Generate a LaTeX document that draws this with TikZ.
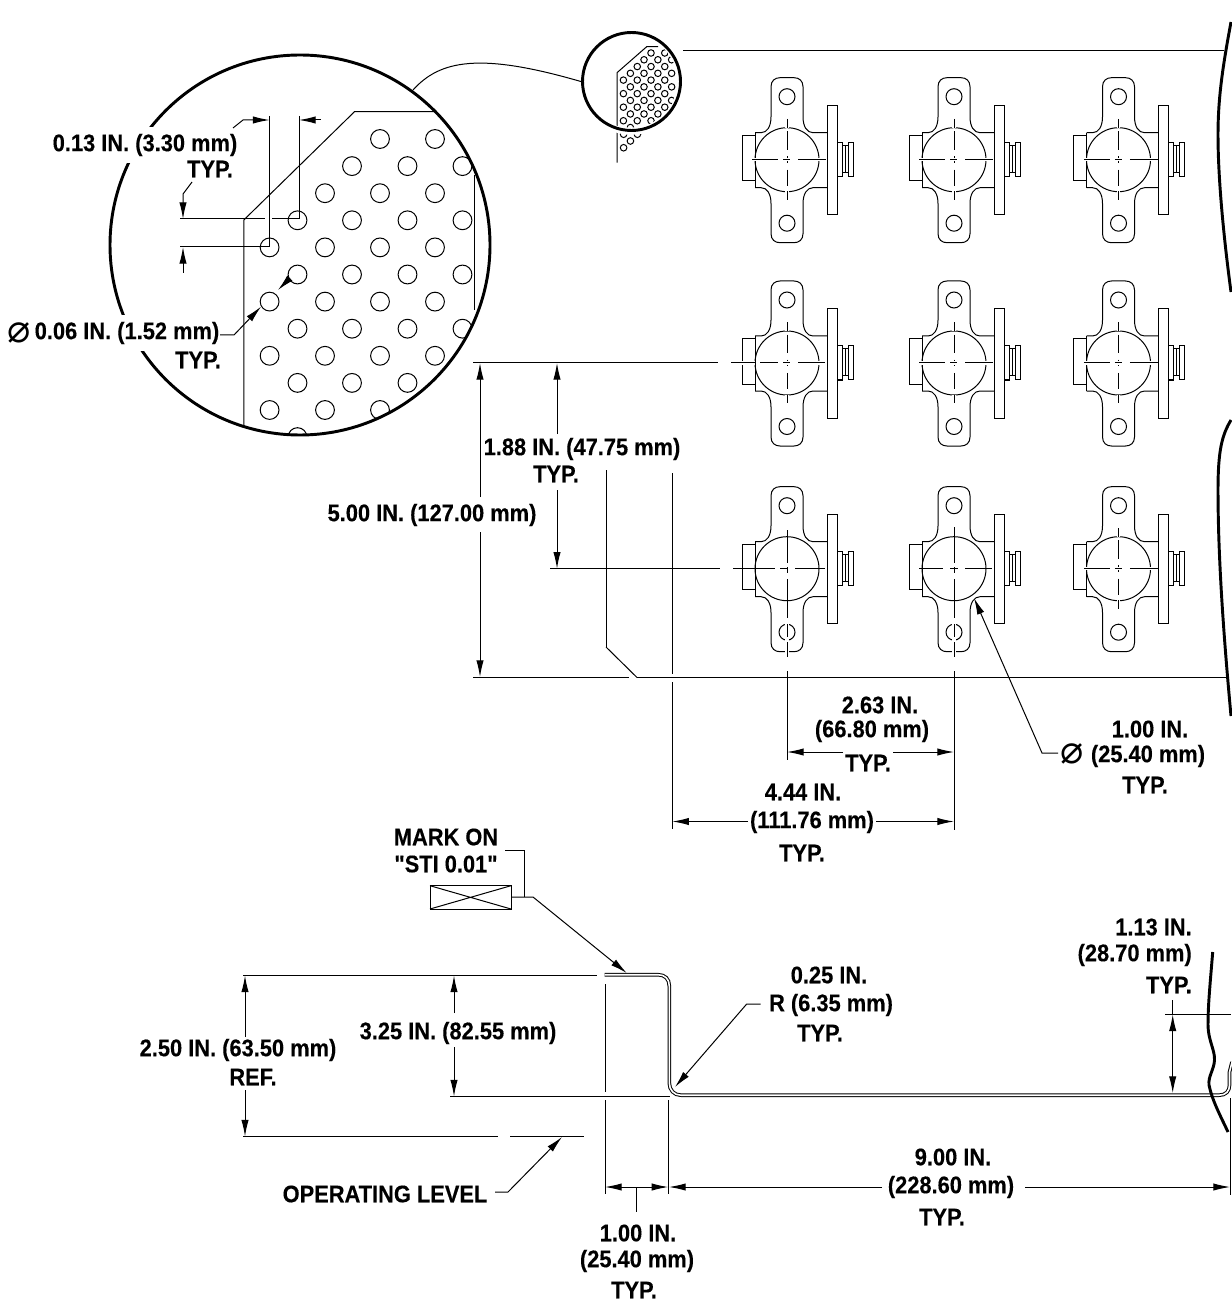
\documentclass[tikz,border=0pt]{standalone}
\usepackage{fontspec}
\newfontfamily\lblfont{Liberation Sans Bold}[FakeStretch=0.91,FakeBold=0.3]
\newfontfamily\symbfont{DejaVu Sans}
\usetikzlibrary{arrows.meta}
\tikzset{
  dimtip/.tip={Latex[length=12.5pt,width=5.5pt]},
  lbl/.style={font=\lblfont\fontsize{18pt}{18pt}\selectfont,inner sep=0.75pt},
  masked/.style={lbl,fill=white,inner xsep=1pt,inner ysep=5pt},
  dia/.style={font=\symbfont\fontsize{29pt}{29pt}\selectfont,inner sep=0pt},
  thin line/.style={line width=0.75pt},
  heavy/.style={line width=2.2pt},
  ctr/.style={line width=0.75pt,preaction={draw=white,line width=2.6pt}},
  bracket/.pic={
    \draw [thin line] (-32,-28) -- (-32,27);
    \draw [thin line] (-32,-28) -- (-26,-28) .. controls (-20,-28) and (-16,-34) .. (-16,-44) -- (-16,-74) .. controls (-16,-80) and (-12,-83) .. (-7,-83) -- (7,-83) .. controls (12,-83) and (16,-80) .. (16,-74) -- (16,-44) .. controls (16,-34) and (20,-28) .. (26,-28) -- (40,-28);
    \draw [thin line] (-32,27) -- (-26,27) .. controls (-20,27) and (-16,33) .. (-16,43) -- (-16,73) .. controls (-16,79) and (-12,82) .. (-7,82) -- (7,82) .. controls (12,82) and (16,79) .. (16,73) -- (16,43) .. controls (16,33) and (20,27) .. (26,27) -- (40,27);
    \draw [thin line] (-32,-21) -- (-45,-21) -- (-45,24) -- (-32,24);
    \draw [thin line] (0,0) circle (32);
    \draw [thin line] (0,-63.5) circle (8);
    \draw [thin line] (0,63) circle (8);
    \draw [thin line] (40.3,-55) rectangle (50,54);
    \draw [thin line] (50,-17) rectangle (55,17);
    \draw [thin line] (55,-13) -- (61,-13) (55,14) -- (61,14) (58,-13) -- (58,14);
    \draw [thin line] (61,-16.5) rectangle (66,17.5);
  }
}
\newcommand{\perfholes}[1]{%
  \foreach \j/\xlist in {0/{380,435},1/{352,407.5,462.5},2/{325,380,435},3/{297.5,352,407.5,462.5},4/{269.6,325,380,435},5/{297.5,352,407.5,462.5},6/{269.6,325,380,435},7/{297.5,352,407.5,462.5},8/{269.6,325,380,435},9/{297.5,352,407.5},10/{269.6,325,380},11/{297.5}}
    \foreach \i in \xlist
      \draw [thin line] (\i,139+27.1*\j) circle (#1);
}
\begin{document}
\begin{tikzpicture}[x=0.75pt,y=0.75pt,yscale=-1,xscale=1]
\useasboundingbox (0,0) rectangle (1231,1301);
% Sheet outline
\draw [thin line] (683,50.5) -- (1224,50.5);
\draw [thin line] (637,677.5) -- (1228,677.5);
\draw [thin line] (606,647) -- (637,677.5);
\draw [thin line] (606,470) -- (606,647);
\draw [thin line] (473,677.5) -- (629,677.5);
\draw [heavy] (1231,22) .. controls (1222,70) and (1218,100) .. (1218,135) .. controls (1218,180) and (1224,240) .. (1231,292);
\draw [heavy] (1231,420) .. controls (1222,435) and (1218,450) .. (1218,490) .. controls (1218,560) and (1224,640) .. (1231,716);
% Brackets
\foreach \cx in {787,954,1118.5}
  \foreach \cy in {159.7,363,568.7}
    \pic at (\cx,\cy) {bracket};
% Center lines
\foreach \cx/\cy in {787/159.7,954/159.7,1118.5/159.7,787/363,954/363,1118.5/363,1118.5/568.7}{
  \foreach \ya/\yb in {-40.7/-31.7,-28.3/-10,-3.3/3.3,10/26,31.7/40}
    \draw [ctr] (\cx,\cy+\ya) -- (\cx,\cy+\yb);
}
\foreach \cx/\cy in {954/159.7,1118.5/159.7,787/159.7,954/363,1118.5/363,1118.5/568.7}{
  \foreach \xa/\xb in {-34.7/-8.7,-3.7/3,11.3/39}
    \draw [ctr] (\cx+\xa,\cy) -- (\cx+\xb,\cy);
}
\foreach \cx/\ytop in {787/530,954/527}{
  \draw [white,line width=3pt] (\cx,618) -- (\cx,657);
  \foreach \ya/\yb in {\ytop/563,567/573,579/618,624/637,642/657}
    \draw [thin line] (\cx,\ya) -- (\cx,\yb);
}
\foreach \xa/\xb in {731/755,760/778,783/790,798/825}
  \draw [ctr] (\xa,363) -- (\xb,363);
\foreach \xa/\xb in {733/775,780/788,795/825}
  \draw [thin line] (\xa,568.7) -- (\xb,568.7);
\foreach \xa/\xb in {919/943,950/958,965/992}
  \draw [thin line] (\xa,568.7) -- (\xb,568.7);
% Small view of the perforated corner
\begin{scope}
  \clip (631.5,81.5) circle (46);
  \begin{scope}[shift={(556,18.25)},scale=0.25]
    \perfholes{13}
  \end{scope}
\end{scope}
\foreach \mx/\my in {623.6/134.25,637.4/134.25,630.4/141,623.6/147.75}
  \draw [thin line] (\mx,\my) circle (3.3);
\draw [thin line] (658,46.7) -- (646.7,46.7) -- (617,72.7) -- (617,162.7);
\draw [white,line width=5pt] (631.5,81.5) circle (50);
\draw [heavy] (631.5,81.5) circle (49);
\draw [thin line] (413,90) .. controls (440,60) and (480,52) .. (582.5,82);
% Detail circle
\begin{scope}
  \clip (300,245) circle (190);
  \draw [thin line] (243.8,430) -- (243.8,220) -- (354.5,111.7) -- (440,111.7);
  \draw [thin line] (474.5,175) -- (474.5,310);
  \perfholes{9.4}
\end{scope}
\draw [heavy] (300,245) circle (190);
% Text Node
\draw (145,145) node (detailpitch) [masked] {0.13 IN. (3.30 mm)};
\draw (210,169) node (detailpitchtyp) [lbl] {TYP.};
\draw (127,333) node (detaildia) [masked] {0.06 IN. (1.52 mm)};
\draw (198,360) node (detaildiatyp) [lbl] {TYP.};
\draw (19.5,333) node (detaildiasym) [dia] {⌀};
% Detail dimensions
\draw [thin line] (269.6,116) -- (269.6,246.7);
\draw [thin line] (299,116) -- (299,219);
\draw [thin line] (180,219) -- (265,219) (272,219) -- (299,219);
\draw [thin line] (180,246.7) -- (269.6,246.7);
\draw [thin line,-dimtip] (233,128) -- (243,120) -- (269.6,120);
\draw [thin line,-dimtip] (320.5,120) -- (299,120);
\draw [thin line,-dimtip] (192,182) -- (183,194) -- (183,219);
\draw [thin line,-dimtip] (183,273) -- (183,247);
\draw [thin line,-dimtip] (220,335) -- (234,335) -- (261,306.7);
\draw [thin line,-dimtip] (290,278) -- (278,290);
% 5.00 and 1.88 dimensions
\draw [thin line] (473,363) -- (718,363);
\draw [thin line] (550,568.7) -- (720,568.7);
\draw [thin line,-dimtip] (480,497) -- (480,363);
\draw [thin line,-dimtip] (480,532) -- (480,677);
\draw [thin line,-dimtip] (557,434) -- (557,363);
\draw [thin line,-dimtip] (557,490) -- (557,568.7);
\draw [thin line] (672.3,473) -- (672.3,674) (672.3,682) -- (672.3,829);
\draw [thin line] (787,671) -- (787,760);
\draw [thin line] (954,671) -- (954,830);
\draw [thin line,-dimtip] (843,752) -- (787,752);
\draw [thin line,-dimtip] (893,752) -- (954,752);
\draw [thin line,-dimtip] (748,821.5) -- (672.3,821.5);
\draw [thin line,-dimtip] (876,821.5) -- (954,821.5);
\draw [thin line,-dimtip] (1058,753) -- (1042,753) -- (974,598);
% Text Node
\draw (432,515) node (overall) [lbl] {5.00 IN. (127.00 mm)};
\draw (582,449) node (pitchrow) [lbl] {1.88 IN. (47.75 mm)};
\draw (556,474) node (pitchrowtyp) [lbl] {TYP.};
\draw (880,705) node (pitchcol) [lbl] {2.63 IN.};
\draw (872,731) node (pitchcolmm) [lbl] {(66.80 mm)};
\draw (868,763) node (pitchcoltyp) [lbl] {TYP.};
\draw (803,792) node (firstcol) [lbl] {4.44 IN.};
\draw (812,822) node (firstcolmm) [lbl] {(111.76 mm)};
\draw (802,853) node (firstcoltyp) [lbl] {TYP.};
\draw (1072,754) node (bossdiasym) [dia] {⌀};
\draw (1150,729) node (bossdia) [lbl] {1.00 IN.};
\draw (1148,756) node (bossdiamm) [lbl] {(25.40 mm)};
\draw (1145,785) node (bossdiatyp) [lbl] {TYP.};
\draw (446,837) node (markon) [lbl] {MARK ON};
\draw (446,864) node (markstock) [lbl] {"STI 0.01"};
% Mark box
\draw [thin line] (430,885.7) rectangle (511,909);
\draw [thin line] (430,885.7) -- (511,909) (430,909) -- (511,885.7);
\draw [thin line] (505,850) -- (524,850) -- (524,897);
\draw [thin line,-dimtip] (511,897) -- (533,897) -- (626.7,973);
% Side profile
\draw [thin line,double,double distance=1.2pt] (604.5,974.7) -- (658,974.7) .. controls (665,974.7) and (669.3,979) .. (669.3,986) -- (669.3,1083) .. controls (669.3,1090) and (674,1095.2) .. (681,1095.2) -- (1219,1095.2) .. controls (1226,1095.2) and (1229.5,1091) .. (1229.5,1085) -- (1229.5,1072) -- (1232,1062);
\draw [thin line] (243,975.5) -- (597,975.5);
\draw [thin line] (450,1096.5) -- (670,1096.5);
\draw [thin line] (243,1136.5) -- (498,1136.5) (510,1136.5) -- (584,1136.5);
\draw [thin line] (605,984) -- (605,1092) (605,1100) -- (605,1194);
\draw [thin line] (668.3,1100) -- (668.3,1194);
\draw [thin line,-dimtip] (245,1037) -- (245,975.5);
\draw [thin line,-dimtip] (245,1090) -- (245,1136.5);
\draw [thin line,-dimtip] (454,1013) -- (454,975.5);
\draw [thin line,-dimtip] (454,1047) -- (454,1096.5);
\draw [thin line,dimtip-dimtip] (605,1187) -- (668.3,1187);
\draw [thin line] (636.7,1187) -- (636.7,1212);
\draw [thin line,-dimtip] (882,1187) -- (669,1187);
\draw [thin line,-dimtip] (1025,1187) -- (1230,1187);
\draw [thin line] (1230,1098) -- (1230,1195);
\draw [thin line,-dimtip] (495,1192) -- (508,1192) -- (562,1137);
\draw [thin line,-dimtip] (760.7,1004) -- (746.7,1004) -- (675,1087);
\draw [thin line] (1165,1014.5) -- (1231,1014.5);
\draw [thin line] (1172.7,1000) -- (1172.7,1014);
\draw [thin line,dimtip-dimtip] (1172.7,1014.5) -- (1172.7,1093);
\draw [heavy] (1212.7,952) .. controls (1210,985) and (1208,1005) .. (1208,1025) .. controls (1208,1040) and (1215,1050) .. (1214.5,1060) .. controls (1214,1070) and (1208,1076) .. (1209,1085) .. controls (1212,1100) and (1220,1115) .. (1228,1132);
% Text Node
\draw (238,1050) node (flangeref) [lbl] {2.50 IN. (63.50 mm)};
\draw (253,1077) node (flangereftyp) [lbl] {REF.};
\draw (458,1033) node (flange) [lbl] {3.25 IN. (82.55 mm)};
\draw (829,975) node (radius) [lbl] {0.25 IN.};
\draw (831,1005) node (radiusmm) [lbl] {R (6.35 mm)};
\draw (820,1033) node (radiustyp) [lbl] {TYP.};
\draw (1193,927) node (liplen) [lbl,anchor=east] {1.13 IN.};
\draw (1193,955) node (liplenmm) [lbl,anchor=east] {(28.70 mm)};
\draw (1193,985) node (liplentyp) [lbl,anchor=east] {TYP.};
\draw (385,1194) node (oplevel) [lbl] {OPERATING LEVEL};
\draw (953,1157) node (span) [lbl] {9.00 IN.};
\draw (951,1187) node (spanmm) [lbl] {(228.60 mm)};
\draw (942,1217) node (spantyp) [lbl] {TYP.};
\draw (638,1233) node (offset) [lbl] {1.00 IN.};
\draw (637,1261) node (offsetmm) [lbl] {(25.40 mm)};
\draw (634,1290) node (offsettyp) [lbl] {TYP.};
\end{tikzpicture}
\end{document}
